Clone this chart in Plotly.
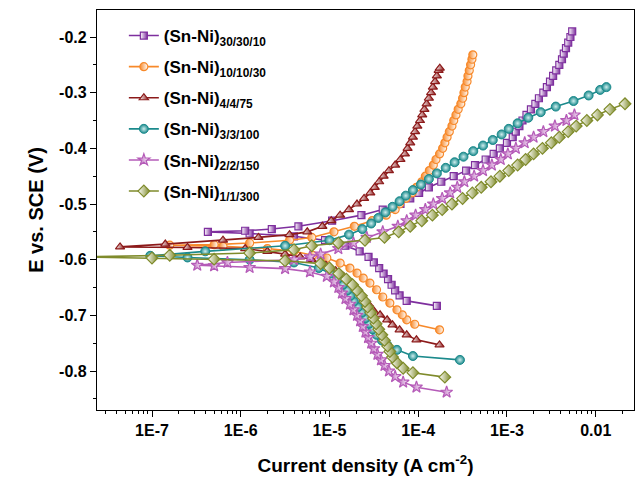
import numpy as np
import plotly.graph_objects as go

# ---------------- data (E in V vs SCE, log10 of current density in A cm^-2) -------------
names = ["(Sn-Ni)<sub>30/30/10</sub>", "(Sn-Ni)<sub>10/10/30</sub>", "(Sn-Ni)<sub>4/4/75</sub>",
         "(Sn-Ni)<sub>3/3/100</sub>", "(Sn-Ni)<sub>2/2/150</sub>", "(Sn-Ni)<sub>1/1/300</sub>"]

E_30 = [-0.683, -0.674, -0.664, -0.655, -0.645, -0.635, -0.625, -0.615, -0.605, -0.595, -0.585,
        -0.575, -0.565, -0.558, -0.553, -0.550, -0.548, -0.545, -0.540, -0.530, -0.520, -0.510,
        -0.500, -0.490, -0.480, -0.470, -0.460, -0.450, -0.440, -0.430, -0.420, -0.410, -0.400,
        -0.390, -0.380, -0.370, -0.360, -0.350, -0.340, -0.330, -0.320, -0.310, -0.300, -0.290,
        -0.280, -0.270, -0.260, -0.250, -0.240, -0.230, -0.220, -0.210, -0.200, -0.190]
logi_30 = [-3.79, -4.13, -4.21, -4.26, -4.30, -4.34, -4.39, -4.44, -4.50, -4.56, -4.66,
           -4.82, -5.05, -5.40, -5.90, -6.37, -5.95, -5.65, -5.35, -4.97, -4.64, -4.40,
           -4.20, -4.09, -3.99, -3.88, -3.74, -3.60, -3.46, -3.36, -3.24, -3.15, -3.08,
           -3.00, -2.935, -2.90, -2.86, -2.825, -2.78, -2.73, -2.68, -2.64, -2.59, -2.55,
           -2.515, -2.48, -2.445, -2.41, -2.38, -2.36, -2.335, -2.31, -2.285, -2.265]

E_10 = [-0.726, -0.716, -0.708, -0.699, -0.690, -0.678, -0.667, -0.654, -0.642, -0.633, -0.624,
        -0.615, -0.606, -0.597, -0.592, -0.585, -0.580, -0.576, -0.574,
        -0.573, -0.570, -0.565, -0.560, -0.550, -0.540, -0.530, -0.520, -0.510, -0.500, -0.490,
        -0.480, -0.470, -0.460, -0.450, -0.440, -0.430, -0.420, -0.410, -0.400, -0.390, -0.380,
        -0.370, -0.360, -0.350, -0.340, -0.330, -0.320, -0.310, -0.300, -0.290, -0.280, -0.270,
        -0.260, -0.250, -0.240, -0.232]
logi_10 = [-3.76, -4.04, -4.13, -4.18, -4.24, -4.32, -4.40, -4.47, -4.545, -4.62, -4.69,
           -4.77, -4.88, -5.03, -5.19, -5.40, -5.70, -6.20, -6.80,
           -6.30, -5.90, -5.45, -5.20, -4.95, -4.72, -4.52, -4.36, -4.26, -4.21, -4.14,
           -4.07, -4.02, -3.96, -3.92, -3.875, -3.83, -3.80, -3.76, -3.725, -3.70, -3.675,
           -3.65, -3.62, -3.60, -3.575, -3.55, -3.52, -3.50, -3.485, -3.47, -3.45, -3.44,
           -3.425, -3.41, -3.395, -3.385]

E_4 = [-0.753, -0.744, -0.735, -0.726, -0.717, -0.708, -0.699, -0.690, -0.680, -0.670, -0.660,
       -0.650, -0.640, -0.630, -0.620, -0.610, -0.600, -0.595, -0.590, -0.585, -0.580, -0.578,
       -0.577,
       -0.572, -0.565, -0.560, -0.555, -0.550, -0.540, -0.530, -0.520, -0.510, -0.500, -0.490,
       -0.480, -0.470, -0.460, -0.450, -0.440, -0.430, -0.420, -0.410, -0.400, -0.390, -0.380,
       -0.370, -0.360, -0.350, -0.340, -0.330, -0.320, -0.310, -0.300, -0.290, -0.280, -0.270,
       -0.260, -0.256]
logi_4 = [-3.76, -4.02, -4.13, -4.21, -4.29, -4.35, -4.43, -4.51, -4.56, -4.61, -4.65,
          -4.70, -4.77, -4.84, -4.93, -5.04, -5.20, -5.33, -5.50, -5.70, -5.95, -6.60,
          -7.36,
          -6.85, -6.20, -5.80, -5.45, -5.25, -5.08, -4.98, -4.88, -4.78, -4.69, -4.61,
          -4.54, -4.49, -4.44, -4.39, -4.33, -4.26, -4.20, -4.15, -4.12, -4.09, -4.06,
          -4.035, -4.01, -3.98, -3.955, -3.93, -3.905, -3.88, -3.855, -3.835, -3.81, -3.79,
          -3.77, -3.757]

E_3 = [-0.780, -0.773, -0.762, -0.753, -0.745, -0.735, -0.725, -0.715, -0.705, -0.695, -0.685,
       -0.675, -0.665, -0.655, -0.645, -0.635, -0.625, -0.615, -0.605, -0.600, -0.596, -0.593,
       -0.585, -0.575, -0.565, -0.555, -0.545, -0.535, -0.525, -0.515, -0.505, -0.495, -0.485,
       -0.475, -0.465, -0.455, -0.445, -0.435, -0.425, -0.415, -0.405, -0.395, -0.385, -0.375,
       -0.365, -0.355, -0.345, -0.335, -0.325, -0.315, -0.305, -0.295, -0.290]
logi_3 = [-3.53, -4.06, -4.24, -4.35, -4.41, -4.47, -4.515, -4.555, -4.595, -4.635, -4.68,
          -4.725, -4.765, -4.80, -4.85, -4.91, -4.99, -5.12, -5.40, -5.90, -6.60, -7.02,
          -6.40, -5.50, -5.00, -4.78, -4.63, -4.53, -4.45, -4.37, -4.29, -4.21, -4.14,
          -4.06, -3.97, -3.88, -3.79, -3.69, -3.59, -3.49, -3.38, -3.27, -3.16, -3.06,
          -2.98, -2.88, -2.76, -2.62, -2.45, -2.25, -2.08, -1.95, -1.88]

E_2 = [-0.838, -0.829, -0.820, -0.810, -0.800, -0.790, -0.780, -0.770, -0.760, -0.750, -0.740,
       -0.730, -0.720, -0.710, -0.700, -0.690, -0.680, -0.670, -0.660, -0.650, -0.640, -0.630,
       -0.622, -0.616, -0.614, -0.611, -0.610,
       -0.605, -0.600, -0.595, -0.590, -0.580, -0.570, -0.560, -0.550, -0.540, -0.530, -0.520,
       -0.510, -0.500, -0.490, -0.480, -0.470, -0.460, -0.450, -0.440, -0.430, -0.420, -0.410,
       -0.400, -0.390, -0.380, -0.370, -0.360, -0.350, -0.340]
logi_2 = [-3.68, -4.02, -4.17, -4.26, -4.33, -4.38, -4.42, -4.46, -4.50, -4.53, -4.565,
          -4.595, -4.625, -4.655, -4.69, -4.73, -4.77, -4.82, -4.86, -4.90, -4.95, -5.03,
          -5.22, -5.50, -5.90, -6.30, -6.49,
          -6.15, -5.40, -5.22, -5.10, -4.90, -4.73, -4.58, -4.40, -4.23, -4.13, -4.03,
          -3.92, -3.83, -3.73, -3.64, -3.56, -3.48, -3.37, -3.27, -3.17, -3.07, -2.99,
          -2.90, -2.80, -2.70, -2.59, -2.46, -2.33, -2.24]

E_1 = [-0.811, -0.803, -0.795, -0.785, -0.775, -0.765, -0.755, -0.745, -0.735, -0.725, -0.715,
       -0.705, -0.695, -0.685, -0.675, -0.665, -0.655, -0.645, -0.635, -0.625, -0.615, -0.607,
       -0.602, -0.599, -0.597, -0.595,
       -0.592, -0.588, -0.582, -0.575, -0.570, -0.565, -0.560, -0.550, -0.540, -0.530, -0.520,
       -0.510, -0.500, -0.490, -0.480, -0.470, -0.460, -0.450, -0.440, -0.430, -0.420, -0.410,
       -0.400, -0.390, -0.380, -0.370, -0.360, -0.350, -0.340, -0.330, -0.320]
logi_1 = [-3.70, -4.06, -4.17, -4.24, -4.29, -4.32, -4.345, -4.38, -4.41, -4.445, -4.475,
          -4.505, -4.535, -4.57, -4.60, -4.64, -4.69, -4.74, -4.81, -4.895, -5.00, -5.10,
          -5.50, -6.30, -7.00, -7.80,
          -6.80, -5.90, -5.40, -5.20, -4.90, -4.60, -4.38, -4.22, -4.09, -3.96, -3.84,
          -3.73, -3.62, -3.50, -3.39, -3.29, -3.18, -3.08, -2.98, -2.88, -2.79, -2.70,
          -2.60, -2.50, -2.41, -2.31, -2.22, -2.10, -1.98, -1.84, -1.67]

E_all = [E_30, E_10, E_4, E_3, E_2, E_1]
logi_all = [logi_30, logi_10, logi_4, logi_3, logi_2, logi_1]

x_tickvals = [1e-7, 1e-6, 1e-5, 1e-4, 1e-3, 1e-2]
x_ticktext = ["1E-7", "1E-6", "1E-5", "1E-4", "1E-3", "0.01"]
y_tickvals = [-0.2, -0.3, -0.4, -0.5, -0.6, -0.7, -0.8]
y_ticktext = ["-0.2", "-0.3", "-0.4", "-0.5", "-0.6", "-0.7", "-0.8"]

# ---------------- styles ----------------
colors = ["#7E2F9E", "#F7892A", "#8C1A1A", "#1B8A8C", "#B55BB8", "#7F8B2B"]
symbols = ["square", "circle", "triangle-up", "circle", "star", "diamond"]
sizes = [7, 8, 8, 9, 9, 9]
fills = ["white", None, "white", None, None, "white"]

fig = go.Figure()
for k in range(6):
    c = colors[k]
    if k == 3:
        marker = dict(symbol=symbols[k], size=sizes[k], color=c,
                      line=dict(color=c, width=1), gradient=dict(type="radial", color="#cfeeee"))
    elif fills[k] == "white":
        marker = dict(symbol=symbols[k], size=sizes[k], color="white",
                      line=dict(color=c, width=1.2), gradient=dict(type="horizontal", color=c))
    else:
        marker = dict(symbol=symbols[k], size=sizes[k], color=c,
                      line=dict(color=c, width=1.2), gradient=dict(type="horizontal", color="white"))
    fig.add_trace(go.Scatter(
        x=10 ** np.array(logi_all[k]), y=E_all[k], mode="lines+markers", name=names[k],
        line=dict(color=c, width=1.6), marker=marker, legendgroup=str(k)))

fig.update_layout(
    width=639, height=477,
    margin=dict(l=97, r=5, t=10, b=67),
    paper_bgcolor="white", plot_bgcolor="white",
    font=dict(family="Liberation Sans, Arial, sans-serif", color="black"),
    showlegend=True,
    legend=dict(x=0.05, y=0.98, xanchor="left", yanchor="top",
                font=dict(family="Liberation Sans, Arial, sans-serif", size=17, color="black", weight="bold"),
                bgcolor="rgba(0,0,0,0)", tracegroupgap=6),
)
fig.update_xaxes(
    type="log", range=[np.log10(2.4e-8), np.log10(0.027)],
    tickvals=x_tickvals, ticktext=x_ticktext,
    tickfont=dict(family="Liberation Sans, Arial, sans-serif", size=16, color="black", weight="bold"),
    ticks="outside", ticklen=6, tickwidth=1.2, tickcolor="black",
    minor=dict(ticks="outside", ticklen=3, tickwidth=1, tickcolor="black",
               tickvals=[m * 10.0 ** d for d in range(-8, -1) for m in range(2, 10)]),
    showline=True, linecolor="black", linewidth=1.3, mirror=True,
    showgrid=False, zeroline=False,
    title=dict(text="Current density (A cm<sup>-2</sup>)", standoff=20,
               font=dict(family="Liberation Sans, Arial, sans-serif", size=19, color="black", weight="bold")),
)
fig.update_yaxes(
    range=[-0.87, -0.1515],
    tickvals=y_tickvals, ticktext=y_ticktext,
    tickfont=dict(family="Liberation Sans, Arial, sans-serif", size=16, color="black", weight="bold"),
    ticks="outside", ticklen=6, tickwidth=1.2, tickcolor="black",
    minor=dict(ticks="outside", ticklen=3, tickwidth=1, tickcolor="black", dtick=0.05),
    showline=True, linecolor="black", linewidth=1.3, mirror=True,
    showgrid=False, zeroline=False,
    title=dict(text="E vs. SCE (V)", standoff=10,
               font=dict(family="Liberation Sans, Arial, sans-serif", size=20, color="black", weight="bold")),
)
fig.write_html("out.html")
